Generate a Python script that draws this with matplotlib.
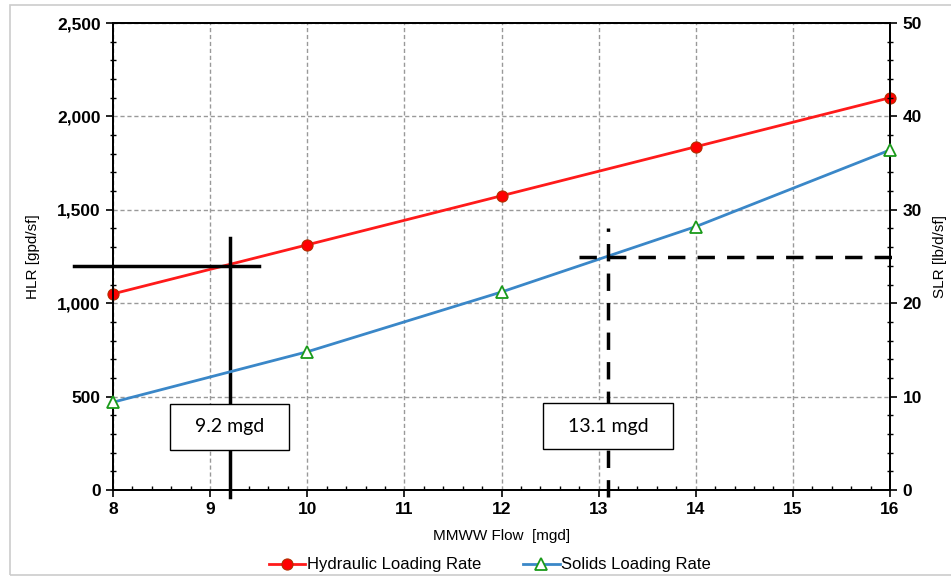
import numpy as np
import matplotlib
matplotlib.use("Agg")
import matplotlib.pyplot as plt
from matplotlib.ticker import MultipleLocator, FuncFormatter
from matplotlib.patches import Rectangle

plt.rcParams["font.family"] = ["Liberation Sans", "DejaVu Sans"]

# data
flow = [8, 10, 12, 14, 16]
hlr = [1050, 1312.5, 1575, 1837.5, 2100]
slr = [9.4, 14.8, 21.2, 28.2, 36.4]

# design points marked on the chart
hlr_limit = 1200
hlr_flow = 9.2
slr_limit = 25
slr_flow = 13.1


def main():
    fig = plt.figure(figsize=(9.51, 5.8), dpi=100)
    fig.patches.append(Rectangle((10 / 951, 5 / 580), 1.0, 570 / 580,
                                 transform=fig.transFigure, fill=False,
                                 edgecolor='#cccccc', linewidth=1.2))
    ax = fig.add_axes([113 / 951, 90 / 580, 777 / 951, 467 / 580])
    ax2 = ax.twinx()

    ax.set_xlim(8, 16)
    ax.set_ylim(0, 2500)
    ax2.set_ylim(0, 50)
    ax.xaxis.set_major_locator(MultipleLocator(1))
    ax.xaxis.set_minor_locator(MultipleLocator(0.2))
    ax.yaxis.set_major_locator(MultipleLocator(500))
    ax.yaxis.set_minor_locator(MultipleLocator(100))
    ax2.yaxis.set_major_locator(MultipleLocator(10))
    ax2.yaxis.set_minor_locator(MultipleLocator(2))
    ax.yaxis.set_major_formatter(FuncFormatter(lambda v, p: f'{v:,.0f}'))

    ax.grid(True, which='major', color='#999999', linestyle=(0, (3, 2)),
            linewidth=1.0)
    for a in (ax, ax2):
        a.tick_params(which='major', direction='out', length=5, width=1.2,
                      labelsize=12.5, pad=4)
        a.tick_params(which='minor', direction='inout', length=4, width=1.0)
        for s in a.spines.values():
            s.set_linewidth(1.3)
    ax.tick_params(axis='x', which='minor', direction='in', length=3)
    for lab in ax.get_xticklabels() + ax.get_yticklabels() + ax2.get_yticklabels():
        lab.set_fontweight('bold')

    ax.set_xlabel('MMWW Flow  [mgd]', fontsize=11, labelpad=8)
    ax.set_ylabel('HLR [gpd/sf]', fontsize=11, labelpad=12)
    ax2.set_ylabel('SLR [lb/d/sf]', fontsize=11, labelpad=8)

    l1, = ax.plot(flow, hlr, color='#ff1a1a', linewidth=2.0, marker='o',
                  markersize=8, markerfacecolor='#ff0000',
                  markeredgecolor='#b03000', markeredgewidth=0.8,
                  label='Hydraulic Loading Rate', clip_on=False, zorder=4)
    l2, = ax2.plot(flow, slr, color='#3a87c8', linewidth=2.0, marker='^',
                   markersize=8, markerfacecolor='white',
                   markeredgecolor='#1a9a1a', markeredgewidth=1.3,
                   label='Solids Loading Rate', clip_on=False, zorder=4)

    # solid cross for the HLR limit
    ax.plot([7.6, 9.5], [hlr_limit, hlr_limit], color='black',
            linewidth=2.5, clip_on=False, zorder=5)
    ax.plot([hlr_flow, hlr_flow], [-40, 1350], color='black',
            linewidth=2.5, clip_on=False, zorder=5)

    # dashed cross for the SLR limit
    ax2.plot([12.8, 16.05], [slr_limit, slr_limit], color='black',
             linewidth=2.5, linestyle=(0, (5, 3.5)), clip_on=False, zorder=5)
    ax2.plot([slr_flow, slr_flow], [-0.8, 28.0], color='black',
             linewidth=2.5, linestyle=(0, (5, 3.5)), clip_on=False, zorder=5)

    box = dict(boxstyle='square,pad=0.75', facecolor='white',
               edgecolor='black', linewidth=1.0)
    ax2.text(hlr_flow, 6.75, '  9.2 mgd  ', ha='center', va='center',
             fontsize=14, family=['Lato', 'DejaVu Sans'], bbox=box, zorder=6)
    ax2.text(slr_flow, 6.85, '  13.1 mgd  ', ha='center', va='center',
             fontsize=14, family=['Lato', 'DejaVu Sans'], bbox=box, zorder=6)

    fig.legend(handles=[l1, l2], loc='center', bbox_to_anchor=(0.515, 0.026),
               ncol=2, frameon=False, fontsize=12, handlelength=2.2,
               handletextpad=0.1, columnspacing=2.5)

    fig.savefig('out.png', dpi=100)


if __name__ == "__main__":
    main()
